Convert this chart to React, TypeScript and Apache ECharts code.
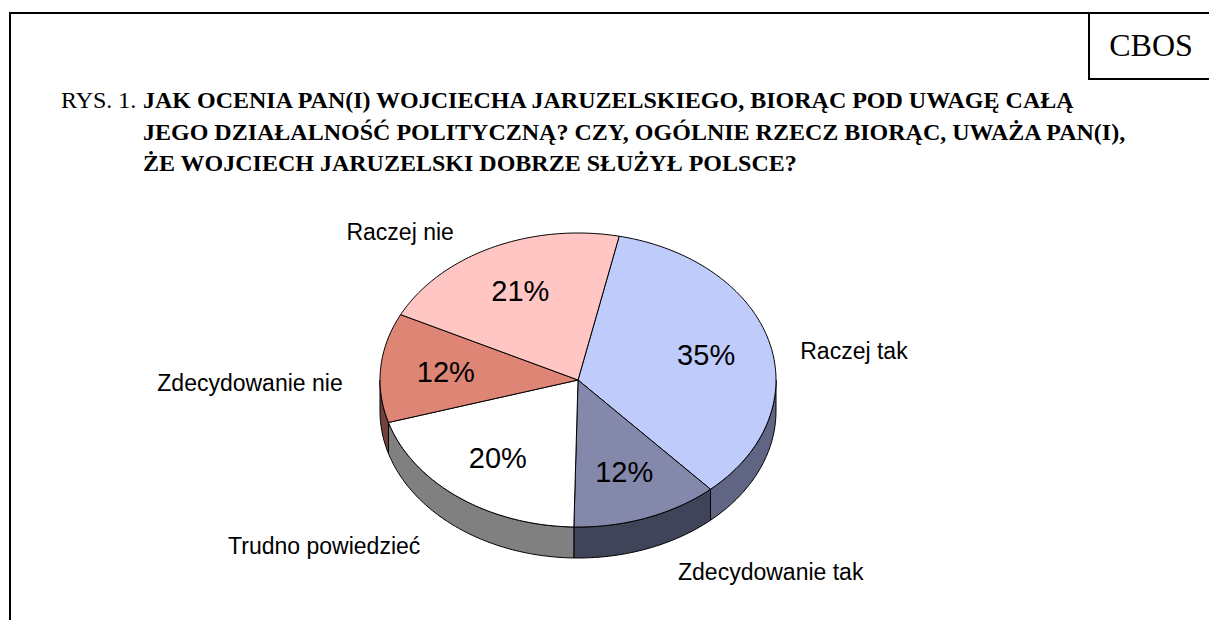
import React, { useEffect, useRef } from "react";
import * as echarts from "echarts";

// ---- data ----
const categories = ["Raczej tak", "Zdecydowanie tak", "Trudno powiedzieć", "Zdecydowanie nie", "Raczej nie"];
const values = [35, 12, 20, 12, 21];
const titlePrefix = "RYS. 1.";
const titleLines = [
  "JAK OCENIA PAN(I) WOJCIECHA JARUZELSKIEGO, BIORĄC POD UWAGĘ CAŁĄ",
  "JEGO DZIAŁALNOŚĆ POLITYCZNĄ? CZY, OGÓLNIE RZECZ BIORĄC, UWAŻA PAN(I),",
  "ŻE WOJCIECH JARUZELSKI DOBRZE SŁUŻYŁ POLSCE?",
];
const sourceLabel = "CBOS";

// ---- styles ----
const topColors = ["#BFCBFB", "#8489AC", "#FFFFFF", "#DE8576", "#FFC6C4"];
const sideColors = ["#5F6582", "#404459", "#808080", "#70423B", "#806362"];

// ---- layout ----
const START_ANGLE = 12; // degrees clockwise from top
const CX = 578;
const CY = 380;
const RX = 198;
const RY = 147;
const DEPTH = 31;

const total = values.reduce((a, b) => a + b, 0);

function pt(deg: number, r = 1, dy = 0): number[] {
  const t = (deg * Math.PI) / 180;
  return [CX + RX * r * Math.sin(t), CY - RY * r * Math.cos(t) + dy];
}

export default function App() {
  const ref = useRef<HTMLDivElement>(null);

  useEffect(() => {
    if (!ref.current) return;
    const chart = echarts.init(ref.current, undefined, { renderer: "svg" });

    const renderItem = (params: any, api: any) => {
      const i = params.dataIndex;
      const v = api.value(0);
      let before = 0;
      for (let j = 0; j < i; j++) before += values[j];
      const a0 = START_ANGLE + (before / total) * 360;
      const a1 = a0 + (v / total) * 360;
      const children: any[] = [];

      // side face (front half only)
      const s0 = Math.max(a0, 90);
      const s1 = Math.min(a1, 270);
      if (s1 > s0) {
        const pts: number[][] = [];
        for (let a = s0; a < s1; a += 1) pts.push(pt(a));
        pts.push(pt(s1));
        pts.push(pt(s1, 1, DEPTH));
        for (let a = s1 - 1; a > s0; a -= 1) pts.push(pt(a, 1, DEPTH));
        pts.push(pt(s0, 1, DEPTH));
        children.push({
          type: "polygon",
          z2: 1,
          shape: { points: pts },
          style: { fill: sideColors[i], stroke: "#000", lineWidth: 1 },
        });
      }

      // top face
      const top: number[][] = [[CX, CY]];
      for (let a = a0; a < a1; a += 1) top.push(pt(a));
      top.push(pt(a1));
      children.push({
        type: "polygon",
        z2: 2,
        shape: { points: top },
        style: { fill: topColors[i], stroke: "#000", lineWidth: 1 },
      });

      // percentage label
      const mid = (a0 + a1) / 2;
      const pp = pt(mid, 0.67);
      children.push({
        type: "text",
        z2: 3,
        x: pp[0],
        y: pp[1],
        style: {
          text: Math.round((v / total) * 100) + "%",
          fill: "#000",
          fontSize: 29,
          fontFamily: "Liberation Sans, Arial, sans-serif",
          align: "center",
          verticalAlign: "middle",
        },
      });

      // category label
      const t = (mid * Math.PI) / 180;
      const s = Math.sin(t);
      const c = -Math.cos(t);
      const lx = CX + RX * s + (s >= 0 ? 31 : -38);
      const ly = CY + RY * c + DEPTH * 0.5 + c * 38 + 3;
      children.push({
        type: "text",
        z2: 3,
        x: lx,
        y: ly,
        style: {
          text: categories[i],
          fill: "#000",
          fontSize: 23,
          fontFamily: "Liberation Sans, Arial, sans-serif",
          align: s >= 0 ? "left" : "right",
          verticalAlign: "middle",
        },
      });

      return { type: "group", children };
    };

    const serif = "Liberation Serif, 'Times New Roman', serif";
    const graphics: any[] = [
      { type: "line", shape: { x1: 10, y1: 13, x2: 10, y2: 620 }, style: { stroke: "#000", lineWidth: 2 } },
      { type: "line", shape: { x1: 9, y1: 13, x2: 1209, y2: 13 }, style: { stroke: "#000", lineWidth: 2 } },
      { type: "line", shape: { x1: 1089, y1: 13, x2: 1089, y2: 79 }, style: { stroke: "#000", lineWidth: 2 } },
      { type: "line", shape: { x1: 1088, y1: 79, x2: 1209, y2: 79 }, style: { stroke: "#000", lineWidth: 2 } },
      {
        type: "text",
        x: 1151,
        y: 45,
        style: { text: sourceLabel, fill: "#000", fontSize: 32, fontFamily: serif, align: "center", verticalAlign: "middle" },
      },
      {
        type: "text",
        x: 61,
        y: 100,
        style: { text: titlePrefix, fill: "#000", fontSize: 24, fontFamily: serif, align: "left", verticalAlign: "middle" },
      },
    ];
    titleLines.forEach((line, k) => {
      graphics.push({
        type: "text",
        x: 143,
        y: 100 + k * 31.5,
        style: {
          text: line,
          fill: "#000",
          fontSize: 24,
          fontWeight: "bold",
          fontFamily: serif,
          align: "left",
          verticalAlign: "middle",
        },
      });
    });

    chart.setOption({
      animation: false,
      backgroundColor: "#ffffff",
      graphic: graphics,
      series: [
        {
          type: "custom",
          coordinateSystem: "none",
          silent: true,
          renderItem,
          data: values.map((v, i) => ({ value: [v], name: categories[i] })),
        },
      ],
    });

    return () => chart.dispose();
  }, []);

  return (
    <div
      ref={ref}
      style={{ position: "absolute", left: 0, top: 0, width: 1209, height: 620 }}
    />
  );
}
